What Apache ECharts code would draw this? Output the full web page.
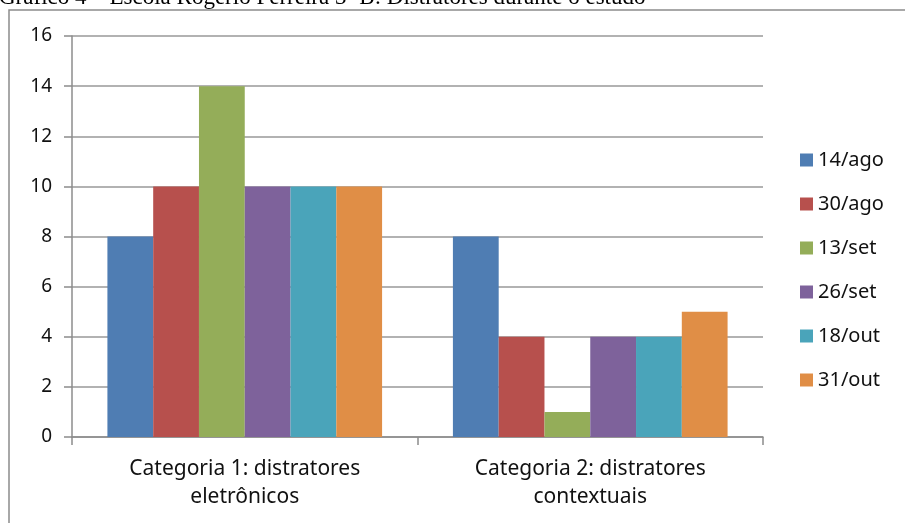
<!DOCTYPE html>
<html>
<head>
<meta charset="utf-8">
<script src="https://cdn.jsdelivr.net/npm/echarts@6/dist/echarts.min.js"></script>
<style>
  html, body { margin: 0; padding: 0; background: #fff; }
  #chart { width: 905px; height: 523px; }
</style>
</head>
<body>
<div id="chart"></div>
<script>
// dados
const categorias = ['Categoria 1: distratores\neletrônicos', 'Categoria 2: distratores\ncontextuais']
const datas = ['14/ago', '30/ago', '13/set', '26/set', '18/out', '31/out']
const v14ago = [8, 8]
const v30ago = [10, 4]
const v13set = [14, 1]
const v26set = [10, 4]
const v18out = [10, 4]
const v31out = [10, 5]
const cores = ['#4f7db3', '#b7504d', '#94ad59', '#7e629b', '#4aa4ba', '#e08e46']

const valores = [v14ago, v30ago, v13set, v26set, v18out, v31out]
const fonte = 'Noto Sans, Open Sans, sans-serif'

const chart = echarts.init(document.getElementById('chart'))
chart.setOption({
  animation: false,
  backgroundColor: '#fff',
  color: cores,
  graphic: [
    {
      // moldura do gráfico
      type: 'rect',
      shape: { x: 9, y: 10, width: 920, height: 540 },
      style: { fill: 'none', stroke: '#8c8c8c', lineWidth: 1.5 },
      silent: true
    },
    {
      // título cortado no topo
      type: 'text',
      left: -1,
      top: -14,
      style: {
        text: 'Gráfico 4 – Escola Rogério Ferreira 3º B: Distratores durante o estudo',
        fontFamily: 'Liberation Serif, serif',
        fontSize: 23,
        fill: '#000'
      },
      silent: true
    }
  ],
  grid: {
    left: 72,
    right: 142,
    top: 36,
    bottom: 86
  },
  legend: {
    orient: 'vertical',
    left: 795,
    top: 145,
    itemWidth: 13,
    itemHeight: 13,
    itemGap: 24,
    icon: 'rect',
    textStyle: {
      fontFamily: fonte,
      fontSize: 20,
      lineHeight: 20,
      color: '#111'
    },
    data: datas
  },
  xAxis: {
    type: 'category',
    data: categorias,
    axisLine: { lineStyle: { color: '#8c8c8c', width: 1.5 } },
    axisTick: { show: true, length: 8, lineStyle: { color: '#8c8c8c', width: 1.5 } },
    axisLabel: {
      fontFamily: fonte,
      fontSize: 21,
      lineHeight: 28,
      margin: 18,
      color: '#111'
    }
  },
  yAxis: {
    type: 'value',
    min: 0,
    max: 16,
    interval: 2,
    axisLine: { show: true, lineStyle: { color: '#8c8c8c', width: 1.5 } },
    axisTick: { show: true, length: 8, lineStyle: { color: '#8c8c8c', width: 1.5 } },
    splitLine: { lineStyle: { color: '#999', width: 1.5 } },
    axisLabel: {
      fontFamily: fonte,
      fontSize: 19,
      margin: 20,
      color: '#111'
    }
  },
  series: datas.map((nome, i) => ({
    name: nome,
    type: 'bar',
    barGap: '0%',
    barCategoryGap: '20.5%',
    data: valores[i]
  }))
})
</script>
</body>
</html>
